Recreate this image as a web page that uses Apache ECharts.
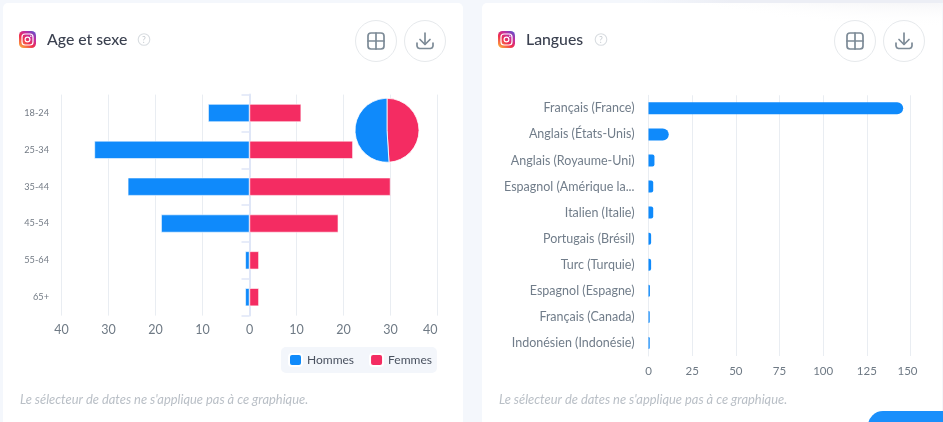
<!DOCTYPE html>
<html>
<head>
<meta charset="utf-8">
<style>html,body{margin:0;padding:0;background:#f4f7fc}#content{width:943px;height:422px}</style>
<script src="https://cdn.jsdelivr.net/npm/echarts@6/dist/echarts.min.js"></script>
</head>
<body>
<div id="content"></div>
<script>
var ages = ['18-24', '25-34', '35-44', '45-54', '55-64', '65+'];
var hommes = [-8.8, -33, -25.9, -18.8, -0.9, -0.9];
var femmes = [11, 22, 30, 18.9, 2, 2];
var partFemmes = 49;
var partHommes = 51;
var langues = ['Français (France)', 'Anglais (États-Unis)', 'Anglais (Royaume-Uni)', 'Espagnol (Amérique la...', 'Italien (Italie)', 'Portugais (Brésil)', 'Turc (Turquie)', 'Espagnol (Espagne)', 'Français (Canada)', 'Indonésien (Indonésie)'];
var languesValeurs = [145.8, 11.6, 3.4, 2.7, 2.7, 1.5, 1.5, 0.8, 0.7, 0.7];

var BLUE = '#0f8afb', RED = '#f42c62';
var FONT = 'Lato, "Open Sans", sans-serif';
var myChart = echarts.init(document.getElementById('content'));

// petits pictos de l'en-tete
function header(x, title, helpX) {
    var els = [];
    els.push({type: 'rect', shape: {x: x, y: 31, width: 17, height: 17, r: 4.5},
        style: {fill: new echarts.graphic.LinearGradient(0.1, 1, 0.9, 0, [
            {offset: 0, color: '#fdb23c'}, {offset: 0.4, color: '#f0304f'},
            {offset: 0.7, color: '#c42d9e'}, {offset: 1, color: '#5b52cf'}])}});
    els.push({type: 'rect', shape: {x: x + 3, y: 34, width: 11, height: 11, r: 3},
        style: {fill: 'none', stroke: '#fff', lineWidth: 1.2}});
    els.push({type: 'circle', shape: {cx: x + 8.5, cy: 39.5, r: 2.4},
        style: {fill: 'none', stroke: '#fff', lineWidth: 1.2}});
    els.push({type: 'circle', shape: {cx: x + 11.8, cy: 36.2, r: 0.7}, style: {fill: '#fff'}});
    els.push({type: 'text', x: x + 28, y: 40, style: {text: title, fill: '#3b4150',
        font: '500 15.8px ' + FONT, textVerticalAlign: 'middle'}});
    els.push({type: 'circle', shape: {cx: helpX, cy: 39.5, r: 5.8},
        style: {fill: 'none', stroke: '#d9dde1', lineWidth: 1.1}});
    els.push({type: 'text', x: helpX, y: 39.8, style: {text: '?', fill: '#c6cbd1',
        font: '8.5px ' + FONT, textAlign: 'center', textVerticalAlign: 'middle'}});
    return els;
}

function buttons(cx1, cx2) {
    var els = [];
    [cx1, cx2].forEach(function (cx) {
        els.push({type: 'circle', shape: {cx: cx, cy: 41, r: 20.5},
            style: {fill: 'none', stroke: '#e6e9ec', lineWidth: 1}});
    });
    var stroke = {fill: 'none', stroke: '#7d8b97', lineWidth: 1.7, lineCap: 'round', lineJoin: 'round'};
    els.push({type: 'rect', shape: {x: cx1 - 8, y: 33, width: 16, height: 16, r: 3}, style: stroke});
    els.push({type: 'line', shape: {x1: cx1, y1: 33, x2: cx1, y2: 49}, style: stroke});
    els.push({type: 'line', shape: {x1: cx1 - 8, y1: 41, x2: cx1 + 8, y2: 41}, style: stroke});
    els.push({type: 'line', shape: {x1: cx2, y1: 33, x2: cx2, y2: 44}, style: stroke});
    els.push({type: 'polyline', shape: {points: [[cx2 - 5, 39.5], [cx2, 44.5], [cx2 + 5, 39.5]]}, style: stroke});
    els.push({type: 'polyline', shape: {points: [[cx2 - 8, 43], [cx2 - 8, 46], [cx2 - 7.2, 47.8], [cx2 - 5.5, 48.5], [cx2 + 5.5, 48.5], [cx2 + 7.2, 47.8], [cx2 + 8, 46], [cx2 + 8, 43]]}, style: stroke});
    return els;
}

function note(x) {
    return {type: 'text', x: x, y: 399.5, style: {text: "Le sélecteur de dates ne s'applique pas à ce graphique.",
        fill: '#b9bfc6', font: 'italic 12.9px ' + FONT, textVerticalAlign: 'middle'}};
}

var decor = [
    {type: 'rect', z: -10, shape: {x: 640, y: 0, width: 303, height: 3},
        style: {fill: new echarts.graphic.LinearGradient(0, 0, 1, 0, [{offset: 0, color: '#f4f7fc'}, {offset: 0.3, color: '#eceef5'}, {offset: 1, color: '#eceef5'}])}},
    {type: 'rect', z: -10, shape: {x: 3, y: 3, width: 460, height: 430, r: 5}, style: {fill: '#fff'}},
    {type: 'rect', z: -10, shape: {x: 482, y: 3, width: 460, height: 430, r: 5}, style: {fill: '#fff'}},
    // ombre diffuse en haut a droite
    {type: 'rect', z: -9, shape: {x: 660, y: 3, width: 282, height: 28, r: [0, 5, 0, 0]},
        style: {fill: new echarts.graphic.RadialGradient(943, -1426, 1453, [
            {offset: 0.983, color: '#f6f6f8'}, {offset: 1, color: 'rgba(255,255,255,0)'}], true)}},
    {type: 'rect', z: -9, shape: {x: 868, y: 411, width: 90, height: 30, r: 15}, style: {fill: '#1a8ffb'}},
    note(20), note(499)
].concat(header(19, 'Age et sexe', 144), buttons(376, 425), header(498, 'Langues', 601), buttons(855, 904));

var axisCommon = {
    axisLine: {show: false},
    axisTick: {show: false},
    splitLine: {show: true, lineStyle: {color: '#e9edf2', width: 1}}
};

var option = {
    animation: false,
    backgroundColor: '#f4f7fc',
    textStyle: {fontFamily: FONT},
    graphic: {elements: decor},
    grid: [
        {left: 61.5, width: 376, top: 94.6, height: 221},
        {left: 648.5, right: 943 - 910.5, top: 95.3, height: 260.7}
    ],
    legend: {
        data: ['Hommes', 'Femmes'],
        left: 281, top: 347,
        backgroundColor: '#f3f6fb',
        borderRadius: 5,
        padding: [6, 5, 6, 7],
        itemGap: 15,
        itemWidth: 13, itemHeight: 12,
        icon: 'roundRect',
        textStyle: {color: '#4a5260', fontSize: 12, fontFamily: FONT}
    },
    xAxis: [
        Object.assign({}, axisCommon, {
            type: 'value', gridIndex: 0, min: -40, max: 40, interval: 10,
            axisLabel: {color: '#6f7a85', fontSize: 12.5, margin: 8, alignMaxLabel: 'right',
                formatter: function (v) { return Math.abs(v); }}
        }),
        Object.assign({}, axisCommon, {
            type: 'value', gridIndex: 1, min: 0, max: 150, interval: 25,
            axisLabel: {color: '#6f7a85', fontSize: 11.5, margin: 9,
                formatter: function (v) { return v === 150 ? '{last|150}' : v; },
                rich: {last: {color: '#6f7a85', fontSize: 11.5, padding: [0, 6, 0, 0]}}}
        })
    ],
    yAxis: [
        {
            type: 'category', gridIndex: 0, data: ages, inverse: true,
            axisLine: {show: true, lineStyle: {color: '#dfe6f7', width: 2}},
            axisTick: {show: true, length: 8, lineStyle: {color: '#dfe6f7', width: 1.5}},
            axisLabel: {color: '#737b85', fontSize: 9.2, margin: 12.5, padding: [3, 0, 0, 0]}
        },
        {
            type: 'category', gridIndex: 1, data: langues, inverse: true,
            axisLine: {show: true, lineStyle: {color: '#e9edf2', width: 1}},
            axisTick: {show: false},
            axisLabel: {color: '#717d8a', fontSize: 12.5, margin: 14, padding: [3, 0, 0, 0]}
        }
    ],
    series: [
        {name: 'Hommes', type: 'bar', xAxisIndex: 0, yAxisIndex: 0, stack: 'age', data: hommes,
            barWidth: 18, itemStyle: {color: BLUE, borderColor: '#fff', borderWidth: 0.6}},
        {name: 'Femmes', type: 'bar', xAxisIndex: 0, yAxisIndex: 0, stack: 'age', data: femmes,
            barWidth: 18, itemStyle: {color: RED, borderColor: '#fff', borderWidth: 0.6}},
        {name: 'Langues', type: 'bar', xAxisIndex: 1, yAxisIndex: 1, barWidth: 12,
            data: languesValeurs.map(function (v) {
                // les petites barres sont a peine arrondies
                var r = v > 10 ? 6 : 2;
                return {value: v, itemStyle: {color: BLUE, borderRadius: [0, r, r, 0]}};
            })},
        {name: 'Sexe', type: 'pie', center: [387, 130.3], radius: [0, 32], startAngle: 90, silent: true,
            label: {show: false}, labelLine: {show: false},
            itemStyle: {borderColor: '#fff', borderWidth: 0.8},
            data: [
                {name: 'Femmes', value: partFemmes, itemStyle: {color: RED}},
                {name: 'Hommes', value: partHommes, itemStyle: {color: BLUE}}
            ]}
    ]
};
myChart.setOption(option);
</script>
</body>
</html>
